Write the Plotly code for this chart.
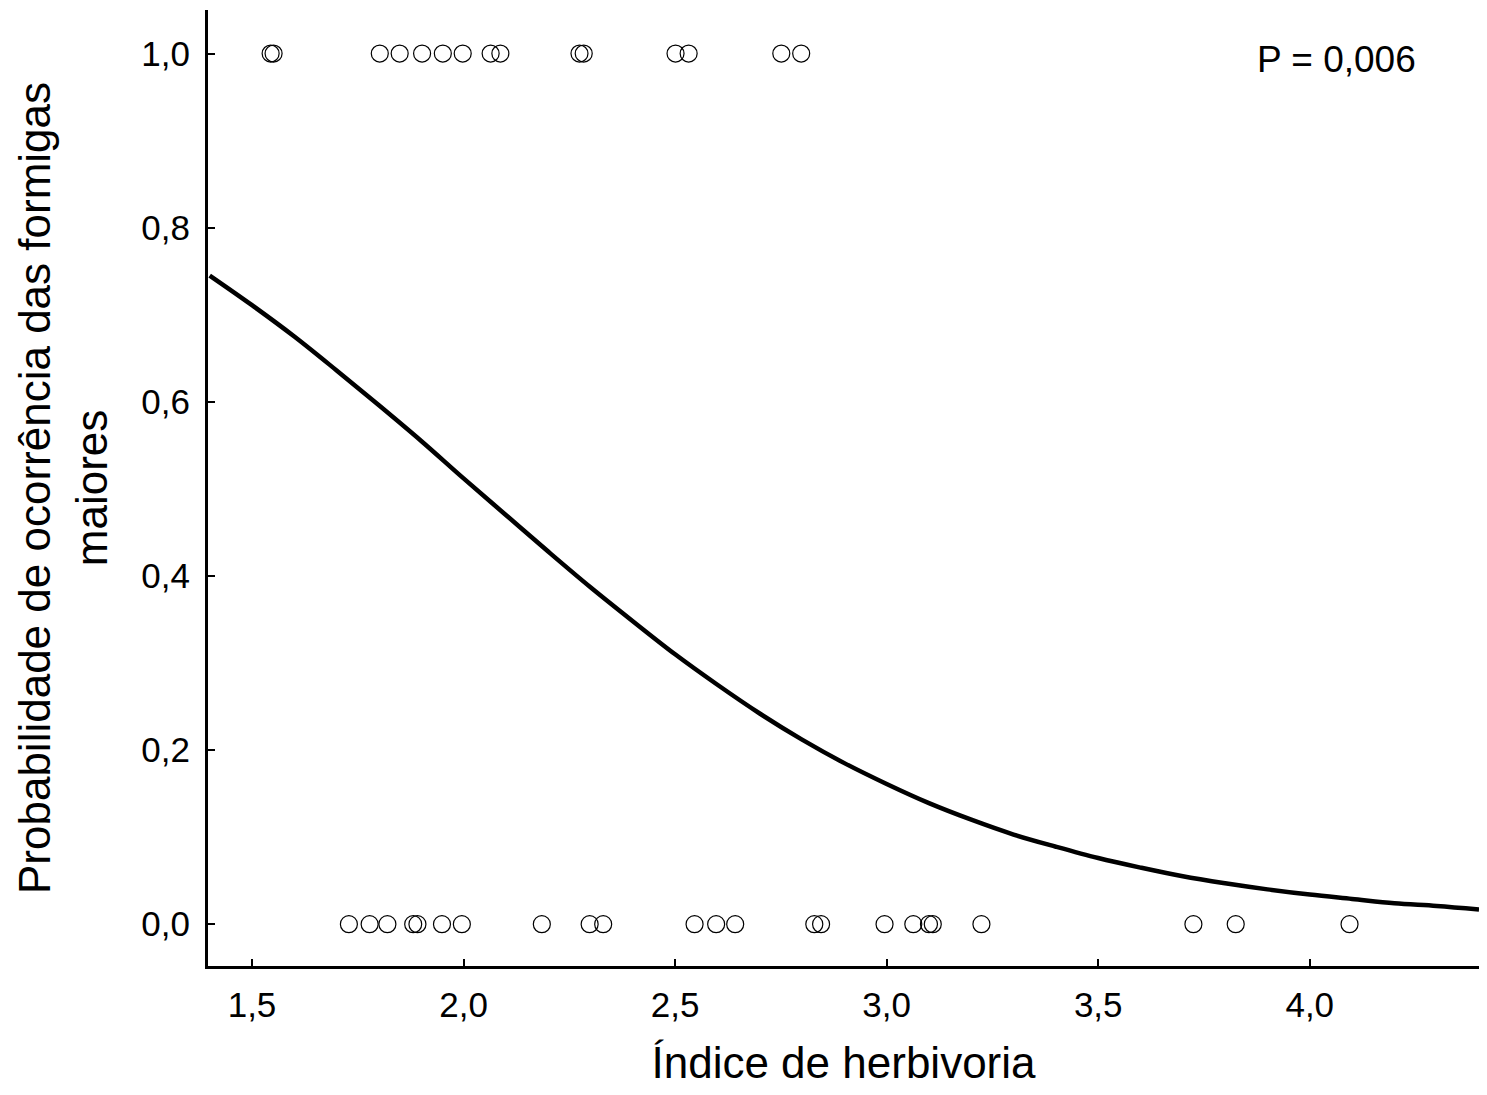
import plotly.graph_objects as go

x_presence = [1.544, 1.551, 1.802, 1.849, 1.902, 1.951, 1.998, 2.064, 2.087,
              2.274, 2.284, 2.501, 2.532, 2.751, 2.798]
y_presence = [1.0] * len(x_presence)

x_absence = [1.729, 1.778, 1.820, 1.881, 1.891, 1.949, 1.996, 2.185, 2.298,
             2.330, 2.546, 2.597, 2.642, 2.829, 2.845, 2.995, 3.063, 3.100,
             3.109, 3.224, 3.725, 3.825, 4.094]
y_absence = [0.0] * len(x_absence)

# Fitted curve, values
curve_x = [1.4, 1.5, 1.6, 1.7, 1.8, 1.9, 2.0, 2.1, 2.2, 2.3, 2.4, 2.5, 2.6,
           2.7, 2.8, 2.9, 3.0, 3.1, 3.2, 3.3, 3.4, 3.5, 3.6, 3.7, 3.8, 3.9,
           4.0, 4.1, 4.2, 4.3, 4.40]
curve_y = [0.745, 0.711, 0.675, 0.636, 0.596, 0.555, 0.512, 0.470, 0.428,
           0.387, 0.348, 0.310, 0.275, 0.242, 0.212, 0.185, 0.161, 0.139,
           0.120, 0.103, 0.089, 0.076, 0.065, 0.055, 0.047, 0.040, 0.034,
           0.029, 0.024, 0.021, 0.017]

x_ticks = [1.5, 2.0, 2.5, 3.0, 3.5, 4.0]
y_ticks = [0.0, 0.2, 0.4, 0.6, 0.8, 1.0]

FONT = "Liberation Sans, Arial, sans-serif"
marker = dict(symbol="circle-open", size=17, color="black", line=dict(width=1.2, color="black"))

fig = go.Figure()
fig.add_trace(go.Scatter(x=curve_x, y=curve_y, mode="lines",
                         line=dict(color="black", width=4.5, shape="spline"),
                         showlegend=False, hoverinfo="skip"))
fig.add_trace(go.Scatter(x=x_presence, y=y_presence, mode="markers",
                         marker=marker, showlegend=False))
fig.add_trace(go.Scatter(x=x_absence, y=y_absence, mode="markers",
                         marker=marker, showlegend=False))

fig.add_annotation(x=4.255, y=0.993, xref="x", yref="y", text="P = 0,006",
                   showarrow=False, xanchor="right", yanchor="middle",
                   font=dict(family=FONT, size=37, color="black"))

fig.update_layout(
    width=1471, height=1079,
    margin=dict(l=200, r=0, t=2, b=121),
    paper_bgcolor="white", plot_bgcolor="white",
    separators=",.",
    font=dict(family=FONT, color="black"),
)
fig.update_xaxes(
    range=[1.396, 4.40], tickvals=x_ticks, tickformat=".1f",
    showline=True, linecolor="black", linewidth=3,
    ticks="inside", ticklen=7, tickwidth=2, tickcolor="black",
    showgrid=False, zeroline=False, automargin=False,
    tickfont=dict(family=FONT, size=35), ticklabelstandoff=6,
    title=dict(text="Índice de herbivoria", font=dict(family=FONT, size=44), standoff=48),
)
fig.update_yaxes(
    range=[-0.048, 1.05], tickvals=y_ticks, tickformat=".1f",
    showline=True, linecolor="black", linewidth=3,
    ticks="inside", ticklen=7, tickwidth=2, tickcolor="black",
    showgrid=False, zeroline=False, automargin=False,
    tickfont=dict(family=FONT, size=35), ticklabelstandoff=8,
    title=dict(text="Probabilidade de ocorrência das formigas<br>maiores",
               font=dict(family=FONT, size=44), standoff=20),
)

fig.write_html("out.html")
